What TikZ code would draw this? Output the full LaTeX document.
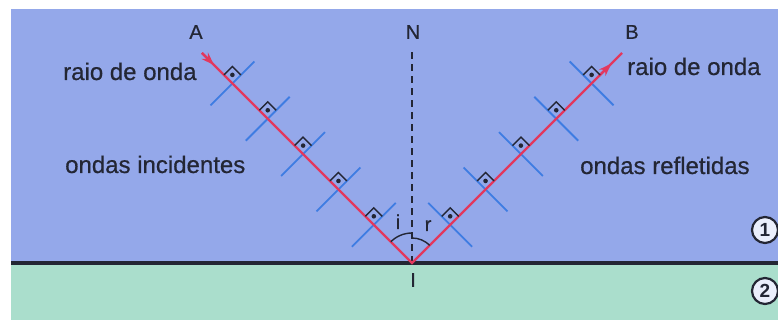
\documentclass[tikz,border=0pt]{standalone}
\usepackage{fontspec}
\setmainfont{Liberation Sans}
\newfontfamily\heavyfont[FakeBold=0.6]{Liberation Sans}
\usetikzlibrary{calc,arrows.meta}
\definecolor{bgblue}{RGB}{148,168,234}
\definecolor{bggreen}{RGB}{170,222,204}
\definecolor{rayred}{RGB}{226,56,94}
\definecolor{wfblue}{RGB}{62,124,226}
\definecolor{inkdark}{RGB}{35,38,52}
\begin{document}
\begin{tikzpicture}[x=1pt,y=1pt,
  ray/.style={rayred,line width=2.2pt},
  front/.style={wfblue,line width=1.8pt},
  rmark/.style={inkdark,line width=1.4pt},
  lbl/.style={font=\heavyfont\fontsize{24}{28}\selectfont,text=inkdark,inner sep=0pt},
  letter/.style={font=\heavyfont\fontsize{20}{24}\selectfont,text=inkdark,inner sep=0pt},
  medium/.style={circle,draw=inkdark,line width=2.2pt,fill=white!80!bgblue,minimum size=26pt,inner sep=0pt,font=\bfseries\fontsize{19}{19}\selectfont,text=inkdark}]
\useasboundingbox (0,0) rectangle (778,320);
\fill[white] (0,0) rectangle (778,320);
\fill[bgblue] (11,57) rectangle (778,311);
\fill[bggreen] (11,0) rectangle (778,57);
\coordinate (I) at (412,57);
\coordinate (W) at (11,57);
\coordinate (E) at (778,57);
\draw[inkdark,line width=3.5pt] (W) -- (E);
\coordinate (A0) at (202,267);
\coordinate (B0) at (622,267);
\coordinate (Ntop) at (412,268);
\draw[inkdark,line width=1.8pt,dash pattern=on 7pt off 5pt] (I) -- (Ntop);
% wave fronts
\foreach \k/\d in {1/54,2/104,3/154,4/204,5/254}{
  \coordinate (L\k) at ($(I)!\d pt!(A0)$);
  \coordinate (R\k) at ($(I)!\d pt!(B0)$);
  \draw[front] ($(L\k)+(45:31)$) -- ($(L\k)+(225:31)$);
  \draw[front] ($(R\k)+(135:31)$) -- ($(R\k)+(-45:31)$);
}
% rays
\draw[ray] (A0) -- (I) -- (B0);
\coordinate (Ah) at ($(I)!280pt!(A0)$);
\coordinate (Bt) at ($(I)!264pt!(B0)$);
\coordinate (Bh) at ($(I)!282pt!(B0)$);
\draw[ray,-{Stealth[length=13pt,width=9pt]}] (A0) -- (Ah);
\draw[ray,-{Stealth[length=13pt,width=9pt]}] (Bt) -- (Bh);
% right angle marks
\foreach \k in {1,...,5}{
  \foreach \P in {L\k,R\k}{
    \draw[rmark] ($(\P)+(135:12)$) -- ($(\P)+(90:16.97)$) -- ($(\P)+(45:12)$);
    \fill[inkdark] ($(\P)+(90:8.5)$) circle (2.3);
  }
}
% angle arcs
\draw[rmark] ($(I)+(135:30)$) arc[start angle=135,end angle=90,radius=30];
\draw[rmark] ($(I)+(90:25)$) arc[start angle=90,end angle=45,radius=25];
\node[letter,anchor=base] (li) at (398,91) {i};
\node[letter,anchor=base] (lr) at (428,89) {r};
% labels
\node[letter] (lA) at (196,288) {A};
\node[letter] (lB) at (632,288) {B};
\node[letter] (lN) at (413,288) {N};
\node[letter] (lI) at (413,40) {I};
\node[lbl,anchor=base west] (rl) at (63,240) {raio de onda};
\node[lbl,anchor=base west] (oi) at (65,147) {ondas incidentes};
\node[lbl,anchor=base west] (rr) at (627,245) {raio de onda};
\node[lbl,anchor=base west] (orf) at (580,146) {ondas refletidas};
\node[medium] (m1) at (765,90) {1};
\node[medium] (m2) at (765,29) {2};
\end{tikzpicture}
\end{document}
